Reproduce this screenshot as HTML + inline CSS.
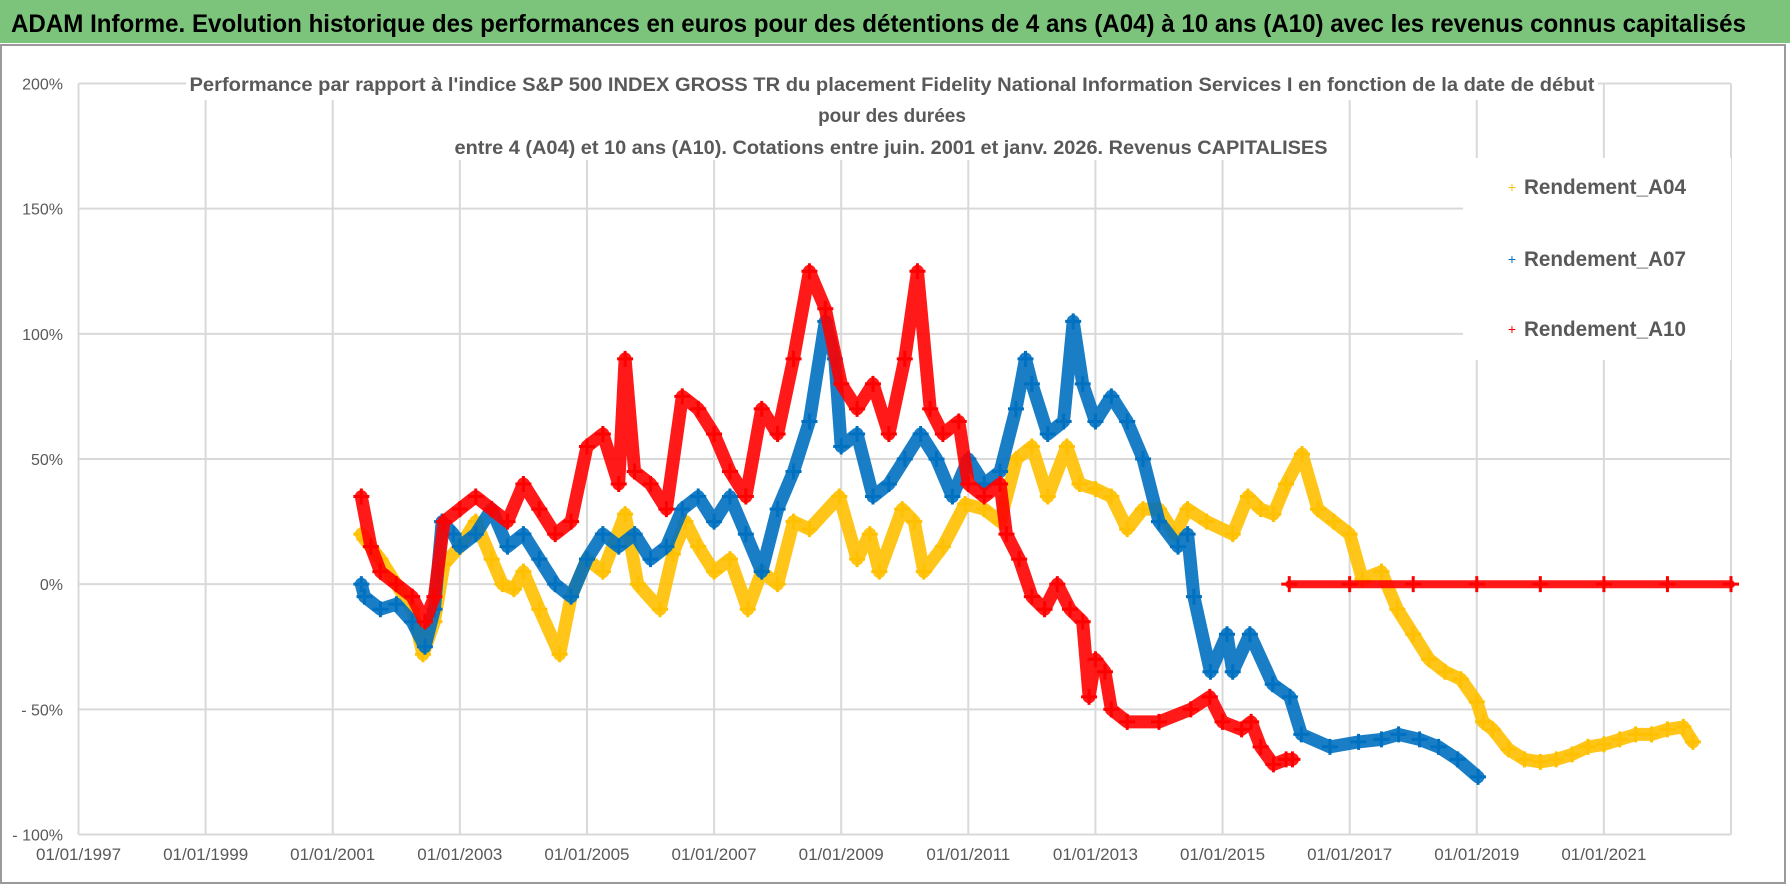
<!DOCTYPE html>
<html><head><meta charset="utf-8">
<style>
html,body{margin:0;padding:0;background:#fff;}
#wrap{position:relative;width:1790px;height:886px;overflow:hidden;}
svg text{font-family:"Liberation Sans Narrow","Liberation Sans",sans-serif;}
</style></head>
<body>
<div id="wrap">
<svg id="chart" width="1790" height="886" viewBox="0 0 1790 886" xmlns="http://www.w3.org/2000/svg">
  <rect x="0" y="0" width="1790" height="886" fill="#fff"/>
  <rect x="0" y="0" width="1790" height="43" fill="#7cc47c"/>
  <text x="11" y="32" font-size="25" font-weight="bold" fill="#000" textLength="1735" lengthAdjust="spacingAndGlyphs">ADAM Informe. Evolution historique des performances en euros pour des détentions de 4 ans (A04) à 10 ans (A10) avec les revenus connus capitalisés</text>
  <rect x="1" y="45" width="1784" height="838" fill="none" stroke="#9a9a9a" stroke-width="2"/>
  <g id="grid"></g>
  <g id="series"></g>
  <rect x="186" y="66" width="1412" height="34" fill="#fff"/>
  <rect x="450" y="100" width="880" height="60" fill="#fff"/>
  <text x="892" y="91" font-size="19" font-weight="bold" fill="#595959" text-anchor="middle" textLength="1405" lengthAdjust="spacingAndGlyphs">Performance par rapport à l'indice S&amp;P 500 INDEX GROSS TR  du placement Fidelity National Information Services I en fonction de la date de début</text>
  <text x="892" y="122" font-size="19" font-weight="bold" fill="#595959" text-anchor="middle">pour des durées</text>
  <text x="891" y="154" font-size="19" font-weight="bold" fill="#595959" text-anchor="middle" textLength="873" lengthAdjust="spacingAndGlyphs">entre 4 (A04) et 10 ans (A10). Cotations entre juin. 2001 et janv. 2026. Revenus CAPITALISES</text>
  <rect x="1463" y="158" width="268" height="202" fill="#fff"/>
  <g>
    <text x="1512" y="192" font-size="14" fill="#FFC000" text-anchor="middle">+</text>
    <text x="1524" y="194" font-size="21" font-weight="bold" fill="#595959" textLength="162" lengthAdjust="spacingAndGlyphs">Rendement_A04</text>
  </g>
  <g>
    <text x="1512" y="264" font-size="14" fill="#0070C0" text-anchor="middle">+</text>
    <text x="1524" y="266" font-size="21" font-weight="bold" fill="#595959" textLength="162" lengthAdjust="spacingAndGlyphs">Rendement_A07</text>
  </g>
  <g>
    <text x="1512" y="334" font-size="14" fill="#FF0000" text-anchor="middle">+</text>
    <text x="1524" y="336" font-size="21" font-weight="bold" fill="#595959" textLength="162" lengthAdjust="spacingAndGlyphs">Rendement_A10</text>
  </g>
  <g id="axes"></g>
</svg>
</div>
<script>
const yTicks = [200, 150, 100, 50, 0, -50, -100];
const yTickLabels = ["200%", "150%", "100%", "50%", "0%", "- 50%", "- 100%"];
const xTicks = [1997, 1999, 2001, 2003, 2005, 2007, 2009, 2011, 2013, 2015, 2017, 2019, 2021, 2023];
const xTickLabels = ["01/01/1997","01/01/1999","01/01/2001","01/01/2003","01/01/2005","01/01/2007","01/01/2009","01/01/2011","01/01/2013","01/01/2015","01/01/2017","01/01/2019","01/01/2021",""];

const a04Dates = [2001.45,2001.5,2001.75,2002.0,2002.25,2002.42,2002.6,2002.75,2003.0,2003.25,2003.5,2003.67,2003.85,2004.0,2004.25,2004.57,2004.75,2005.0,2005.25,2005.6,2005.8,2006.15,2006.35,2006.55,2006.75,2007.0,2007.25,2007.53,2007.75,2008.0,2008.25,2008.5,2008.97,2009.25,2009.45,2009.6,2009.96,2010.15,2010.3,2010.6,2010.95,2011.25,2011.5,2011.76,2012.0,2012.25,2012.55,2012.75,2013.0,2013.25,2013.5,2013.75,2014.0,2014.25,2014.45,2014.75,2015.16,2015.4,2015.6,2015.8,2016.0,2016.25,2016.5,2016.75,2017.0,2017.2,2017.5,2017.75,2018.0,2018.25,2018.5,2018.75,2019.0,2019.1,2019.25,2019.5,2019.75,2020.0,2020.25,2020.5,2020.75,2021.0,2021.25,2021.5,2021.75,2022.0,2022.25,2022.4];
const a04Vals = [20,18,10,0,-10,-28,-15,8,15,25,10,0,-2,5,-10,-28,-5,10,5,28,0,-10,12,25,15,5,10,-10,5,0,25,22,35,10,20,5,30,25,5,15,32,30,25,50,55,35,55,40,38,35,22,30,30,20,30,25,20,35,30,28,40,52,30,25,20,2,5,-10,-20,-30,-35,-38,-47,-55,-58,-66,-70,-71,-70,-68,-65,-64,-62,-60,-60,-58,-57,-63];

const a07Dates = [2001.45,2001.5,2001.75,2002.0,2002.25,2002.45,2002.6,2002.72,2002.9,2003.0,2003.25,2003.5,2003.75,2004.0,2004.25,2004.5,2004.75,2005.0,2005.25,2005.5,2005.75,2006.0,2006.25,2006.5,2006.75,2007.0,2007.25,2007.5,2007.75,2008.0,2008.25,2008.5,2008.75,2008.9,2009.0,2009.25,2009.5,2009.75,2010.0,2010.25,2010.5,2010.75,2011.0,2011.25,2011.5,2011.75,2011.9,2012.0,2012.25,2012.5,2012.65,2012.8,2013.0,2013.25,2013.5,2013.75,2014.0,2014.3,2014.45,2014.55,2014.81,2015.07,2015.16,2015.43,2015.79,2016.06,2016.24,2016.69,2017.14,2017.5,2017.77,2018.1,2018.4,2018.7,2019.02];
const a07Vals = [0,-5,-10,-8,-15,-25,-10,25,20,15,20,30,15,20,10,0,-5,10,20,15,20,10,15,30,35,25,35,20,5,30,45,65,105,90,55,60,35,40,50,60,50,35,50,40,45,70,90,80,60,65,105,80,65,75,65,50,25,15,20,-5,-35,-20,-35,-20,-40,-45,-60,-65,-63,-62,-60,-62,-65,-70,-77];

const a10Dates = [2001.45,2001.6,2001.75,2002.0,2002.25,2002.45,2002.6,2002.75,2003.0,2003.25,2003.5,2003.75,2004.0,2004.25,2004.5,2004.75,2005.0,2005.25,2005.5,2005.6,2005.75,2006.0,2006.25,2006.5,2006.75,2007.0,2007.25,2007.5,2007.75,2008.0,2008.25,2008.5,2008.75,2009.0,2009.25,2009.5,2009.75,2010.0,2010.2,2010.4,2010.6,2010.85,2011.0,2011.25,2011.5,2011.6,2011.8,2012.0,2012.2,2012.4,2012.6,2012.8,2012.9,2013.0,2013.15,2013.25,2013.5,2014.0,2014.5,2014.8,2015.0,2015.3,2015.45,2015.6,2015.8,2016.0,2016.1];
const a10Vals = [35,15,5,0,-5,-15,-5,25,30,35,30,25,40,30,20,25,55,60,40,90,45,40,30,75,70,60,45,35,70,60,90,125,110,80,70,80,60,90,125,70,60,65,40,35,40,20,10,-5,-10,0,-10,-15,-45,-30,-35,-50,-55,-55,-50,-45,-55,-58,-55,-65,-72,-70,-70];

const a10TailDates = [2016.05, 2017, 2018, 2019, 2020, 2021, 2022, 2023];
const a10TailVals = [0, 0, 0, 0, 0, 0, 0, 0];

const NS = "http://www.w3.org/2000/svg";
const X0 = 78.5, X1 = 1731, YR0 = 1997, YR1 = 2023;
const Y0 = 834.5, Y1 = 83.5, V0 = -100, V1 = 200;
function xScale(yr){ return X0 + (yr - YR0) / (YR1 - YR0) * (X1 - X0); }
function yScale(v){ return Y0 - (v - V0) / (V1 - V0) * (Y0 - Y1); }

const grid = document.getElementById('grid');
const axes = document.getElementById('axes');
yTicks.forEach((t, i) => {
  const l = document.createElementNS(NS, 'line');
  l.setAttribute('x1', X0); l.setAttribute('x2', X1);
  l.setAttribute('y1', yScale(t)); l.setAttribute('y2', yScale(t));
  l.setAttribute('stroke', '#d9d9d9'); l.setAttribute('stroke-width', '2');
  
  
  grid.appendChild(l);
  const tx = document.createElementNS(NS, 'text');
  tx.setAttribute('x', 63); tx.setAttribute('y', yScale(t) + 6);
  tx.setAttribute('text-anchor', 'end'); tx.setAttribute('font-size', '16');
  tx.setAttribute('fill', '#595959');
  tx.textContent = yTickLabels[i];
  
  
  axes.appendChild(tx);
});
xTicks.forEach((t, i) => {
  const l = document.createElementNS(NS, 'line');
  l.setAttribute('x1', xScale(t)); l.setAttribute('x2', xScale(t));
  l.setAttribute('y1', Y1); l.setAttribute('y2', Y0);
  l.setAttribute('stroke', '#d9d9d9'); l.setAttribute('stroke-width', '2');
  
  
  grid.appendChild(l);
  const tx = document.createElementNS(NS, 'text');
  tx.setAttribute('x', xScale(t)); tx.setAttribute('y', 860);
  tx.setAttribute('text-anchor', 'middle'); tx.setAttribute('font-size', '17');
  tx.setAttribute('fill', '#595959');
  tx.textContent = xTickLabels[i];
  
  
  axes.appendChild(tx);
});

const seriesG = document.getElementById('series');
function drawSeries(dates, vals, color, name, width){
  const g = document.createElementNS(NS, 'g');
  
  
  const pts = dates.map((d, i) => xScale(d).toFixed(1) + ',' + yScale(vals[i]).toFixed(1)).join(' ');
  const pl = document.createElementNS(NS, 'polyline');
  pl.setAttribute('points', pts);
  pl.setAttribute('fill', 'none'); pl.setAttribute('stroke', color);
  pl.setAttribute('stroke-width', width); pl.setAttribute('stroke-linejoin', 'round');
  pl.setAttribute('stroke-linecap', 'round'); pl.setAttribute('opacity', '0.9');
  
  
  g.appendChild(pl);
  dates.forEach((d, i) => {
    const cx = xScale(d), cy = yScale(vals[i]);
    const p = document.createElementNS(NS, 'path');
    p.setAttribute('d', `M${cx-8},${cy}H${cx+8}M${cx},${cy-8}V${cy+8}`);
    p.setAttribute('stroke', color); p.setAttribute('stroke-width', '3');
    
    
    g.appendChild(p);
  });
  seriesG.appendChild(g);
}
drawSeries(a04Dates, a04Vals, '#FFC000', 'series-a04', 13);
drawSeries(a07Dates, a07Vals, '#0070C0', 'series-a07', 13);
drawSeries(a10Dates, a10Vals, '#FF0000', 'series-a10', 13);
drawSeries(a10TailDates, a10TailVals, '#FF0000', 'series-a10-tail', 8);
</script>
</body></html>
